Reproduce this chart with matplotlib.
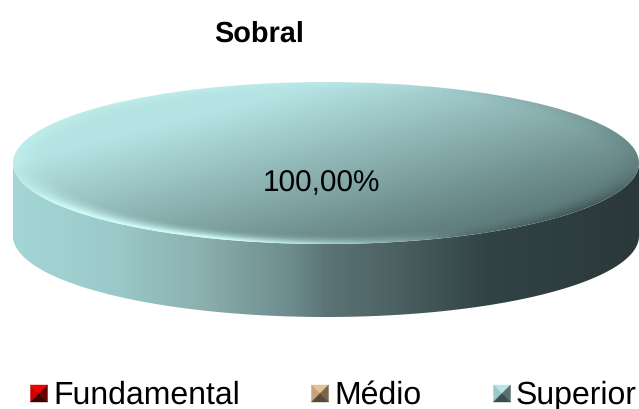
import numpy as np
import matplotlib
matplotlib.use('Agg')
import matplotlib.pyplot as plt
from matplotlib.patches import Polygon
from matplotlib.colors import LinearSegmentedColormap

plt.rcParams['font.family'] = ['Liberation Sans', 'DejaVu Sans']
plt.rcParams['text.hinting'] = 'none'

categories = ['Fundamental', 'Médio', 'Superior']
shares = [0.0, 0.0, 100.0]
value_label = '100,00%'
title = 'Sobral'

W, H = 639, 410
cx, cy, rx, ry = 326.0, 164.0, 313.0, 81.0
depth = 73.0

fig = plt.figure(figsize=(W / 100, H / 100), dpi=100)
bg = fig.add_axes([0, 0, 1, 1])
bg.set_xlim(0, W)
bg.set_ylim(H, 0)
bg.axis('off')

# side of the disc, horizontal gradient clipped to the lower half of the ellipse
t = np.linspace(np.pi, 0, 200)
low_x = cx + rx * np.cos(t)
low_y = cy + ry * np.sin(t)
side_xy = np.vstack([np.column_stack([low_x, low_y + depth]),
                     np.column_stack([low_x[::-1], low_y[::-1]])])
side = Polygon(side_xy, closed=True, fc='none', ec='none')
bg.add_patch(side)
side_cmap = LinearSegmentedColormap.from_list('side', [
    (0.0, '#a4d6d6'), (0.15, '#9ccaca'), (0.30, '#8bb0b0'), (0.45, '#6c8a8b'),
    (0.50, '#5c7476'), (0.62, '#4a5f60'), (0.76, '#324345'), (1.0, '#2b3839')])
im = bg.imshow(np.linspace(0, 1, 400).reshape(1, -1), cmap=side_cmap, aspect='auto',
               extent=[cx - rx, cx + rx, cy + ry + depth, cy], zorder=1)
im.set_clip_path(side)
bg.set_xlim(0, W)
bg.set_ylim(H, 0)

# top face comes from the pie itself, squashed into the ellipse box
x0 = cx - rx
y0 = cy + ry
pie_ax = fig.add_axes([x0 / W, 1 - y0 / H, 2 * rx / W, 2 * ry / H])
wedges, _ = pie_ax.pie(shares, radius=1, startangle=90, counterclock=False)
pie_ax.set_aspect('auto')
pie_ax.axis('off')
pie_ax.patch.set_alpha(0)

gx, gy = np.meshgrid(np.linspace(-1, 1, 700), np.linspace(1, -1, 300))
r = np.hypot(gx, gy)
# light at upper left, dark towards lower right
d = np.clip(0.38 * (gx - gy + 1), 0, 1)
stops = [0, 0.38, 0.76, 1]
c0 = np.array([0.71, 0.89, 0.89])
c1 = np.array([0.56, 0.71, 0.71])
c2 = np.array([0.41, 0.53, 0.53])
c3 = np.array([0.33, 0.43, 0.43])
rgb = np.zeros(gx.shape + (3,))
for i in range(3):
    rgb[..., i] = np.interp(d, stops, [c0[i], c1[i], c2[i], c3[i]])
# bevel on the lower rim, bright from the left to the middle, dark at the right
rim = np.clip((r - 0.88) / 0.12, 0, 1) ** 1.8
lower = np.clip(-gy * 1.6 + 0.1, 0, 1)
left = np.clip(-gx * 1.2 + 0.55, 0, 1)
right = np.clip(gx * 2.0 - 0.6, 0, 1)
bright = (rim * left * np.maximum(lower, 0.35))[..., None]
shade = (rim * right * np.maximum(lower, 0.2))[..., None]
rgb = rgb + (np.array([0.80, 0.98, 0.96]) - rgb) * np.minimum(bright * 1.2, 1)
rgb = rgb + (np.array([0.22, 0.30, 0.30]) - rgb) * np.minimum(shade * 0.75, 1)
wedges[2].set_facecolor('none')
top = pie_ax.imshow(np.clip(rgb, 0, 1), aspect='auto', extent=[-1, 1, -1, 1], zorder=2)
top.set_clip_path(wedges[2])
pie_ax.set_xlim(-1, 1)
pie_ax.set_ylim(-1, 1)

fig.text(259 / W, 1 - 42 / H, title, ha='center', va='baseline', fontsize=20.8, fontweight='bold')
fig.text(321.5 / W, 1 - 191.5 / H, value_label, ha='center', va='baseline', fontsize=21.4)

# legend with pyramid shaded keys
key_x = [30.5, 311.5, 493.5]
key_faces = [
    ('#f00000', '#d00000', '#6a0000', '#400000'),
    ('#e6c193', '#c9a27a', '#7a644c', '#5a4936'),
    ('#b8e6e6', '#9cc8c8', '#577070', '#3a4c4c'),
]
ks = 17
ky = 386
for name, kx, (c_top, c_left, c_right, c_bottom) in zip(categories, key_x, key_faces):
    mx, my = kx + ks / 2, ky + ks / 2
    tl, tr, br, bl = (kx, ky), (kx + ks, ky), (kx + ks, ky + ks), (kx, ky + ks)
    for pts, c in [((tl, tr), c_top), ((tl, bl), c_left), ((tr, br), c_right), ((bl, br), c_bottom)]:
        bg.add_patch(Polygon([pts[0], pts[1], (mx, my)], closed=True, fc=c, ec=c, lw=0.3, zorder=3))
    bg.text(kx + ks + 5.5, 403.5, name, ha='left', va='baseline', fontsize=23, zorder=4)

fig.savefig('out.png', dpi=100)
